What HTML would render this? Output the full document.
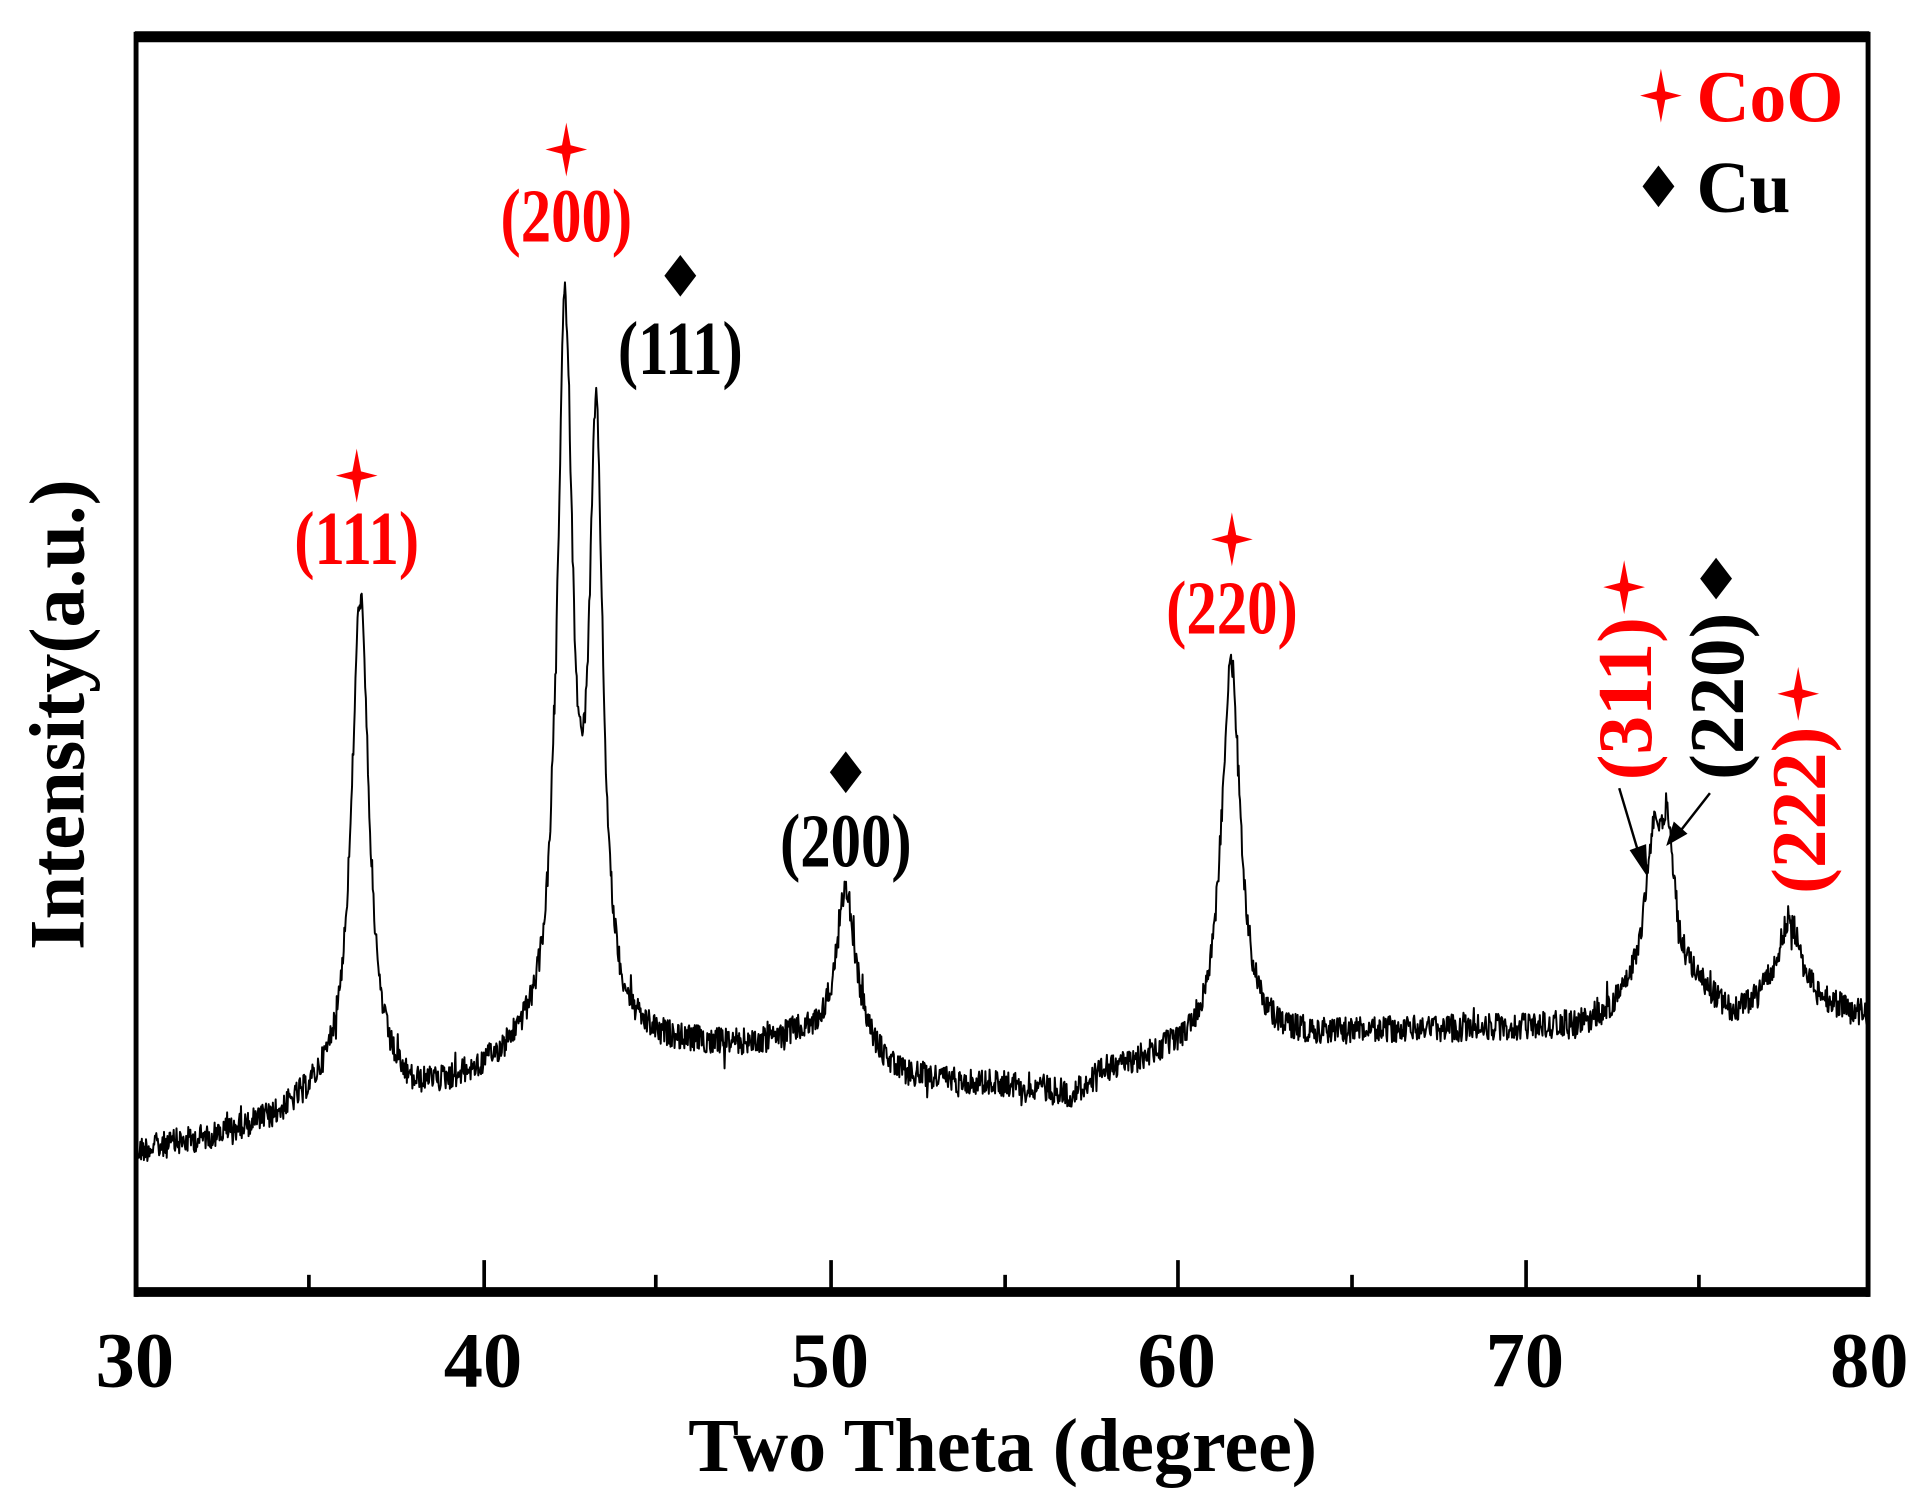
<!DOCTYPE html>
<html><head><meta charset="utf-8">
<style>
html,body{margin:0;padding:0;background:#fff;}
svg{display:block;}
text{font-family:"Liberation Serif",serif;font-weight:bold;}
</style></head>
<body>
<svg id="s" width="1922" height="1507" viewBox="0 0 1568 1229.4" preserveAspectRatio="none" xmlns="http://www.w3.org/2000/svg">
<defs>
<path id="star" d="M0,-22 L3.5,-3.5 L17,0 L3.5,3.5 L0,22 L-3.5,3.5 L-17,0 L-3.5,-3.5 Z"/>
<path id="dia" d="M0,-17 L13,0 L0,17 L-13,0 Z"/>
</defs>
<path id="curve" fill="none" stroke="#000" stroke-width="1.6" stroke-linejoin="round"/>
<line x1="110" y1="30" x2="1525" y2="30" stroke="#000" stroke-width="9"/>
<line x1="110" y1="1054" x2="1525" y2="1054" stroke="#000" stroke-width="8"/>
<line x1="111" y1="26" x2="111" y2="1058" stroke="#000" stroke-width="4"/>
<line x1="1524" y1="26" x2="1524" y2="1058" stroke="#000" stroke-width="4"/>
<g stroke="#000" stroke-width="3">
<line x1="252" y1="1054" x2="252" y2="1040"/>
<line x1="395" y1="1054" x2="395" y2="1028"/>
<line x1="535" y1="1054" x2="535" y2="1040"/>
<line x1="678" y1="1054" x2="678" y2="1028"/>
<line x1="820" y1="1054" x2="820" y2="1040"/>
<line x1="961" y1="1054" x2="961" y2="1028"/>
<line x1="1103" y1="1054" x2="1103" y2="1040"/>
<line x1="1245" y1="1054" x2="1245" y2="1028"/>
<line x1="1386" y1="1054" x2="1386" y2="1040"/>
</g>
<g font-size="64" text-anchor="middle" fill="#000">
<text x="110" y="1131">30</text>
<text x="394" y="1131">40</text>
<text x="677" y="1131">50</text>
<text x="960" y="1131">60</text>
<text x="1244" y="1131">70</text>
<text x="1525" y="1131">80</text>
</g>
<text x="818" y="1200" font-size="62" text-anchor="middle">Two Theta (degree)</text>
<text transform="translate(68,583) rotate(-90)" font-size="64" text-anchor="middle">Intensity(a.u.)</text>
<use href="#star" x="1355" y="78" fill="red"/>
<text x="1384" y="99" font-size="60" fill="red">CoO</text>
<use href="#dia" x="1353" y="152" fill="#000"/>
<text x="1384" y="173" font-size="60" fill="#000">Cu</text>
<g font-size="62" text-anchor="middle">
<use href="#star" x="291" y="388" fill="red"/>
<text transform="translate(291,460) scale(0.8,1)" fill="red">(111)</text>
<use href="#star" x="462" y="122" fill="red"/>
<text transform="translate(462,197) scale(0.8,1)" fill="red">(200)</text>
<use href="#dia" x="555" y="225" fill="#000"/>
<text transform="translate(555,305) scale(0.8,1)" fill="#000">(111)</text>
<use href="#dia" x="690" y="630" fill="#000"/>
<text transform="translate(690,707) scale(0.8,1)" fill="#000">(200)</text>
<use href="#star" x="1005" y="440" fill="red"/>
<text transform="translate(1005,517) scale(0.8,1)" fill="red">(220)</text>
<use href="#star" x="1325" y="479" fill="red"/>
<text transform="translate(1347,570) rotate(-90)" fill="red" font-size="63">(311)</text>
<use href="#dia" x="1400" y="472" fill="#000"/>
<text transform="translate(1422,568) rotate(-90)" fill="#000" font-size="63">(220)</text>
<use href="#star" x="1467" y="566" fill="red"/>
<text transform="translate(1489,661) rotate(-90)" fill="red" font-size="63">(222)</text>
</g>
<g stroke="#000" stroke-width="2" fill="#000">
<line x1="1321" y1="643" x2="1338" y2="700"/>
<path d="M1343,712 L1331,694 L1342,690 Z"/>
<line x1="1395" y1="647" x2="1370" y2="679"/>
<path d="M1361,688 L1366,672 L1375,680 Z"/>
</g>
</svg>
<script>
(function(){
var seed=12345;function rnd(){seed=(seed*1103515245+12345)%2147483648;return seed/2147483648;}
var bp=[[30,940],[32,930],[34,915],[35,900],[36,885],[38,898],[40,880],[41,865],[44,855],[48,855],[49,848],[51,862],[52,880],[56,888],[57,895],[58,875],[60,860],[63,848],[66,842],[72,838],[73,825],[75,810],[76,832],[77,822],[79,825],[80,830]];
function base(t){for(var i=0;i<bp.length-1;i++){if(t<=bp[i+1][0]){var a=bp[i],b=bp[i+1];return a[1]+(b[1]-a[1])*(t-a[0])/(b[0]-a[0]);}}return 830;}
var pk=[[36.5,400,0.3],[42.4,590,0.27],[43.3,480,0.24],[50.5,130,0.35],[61.6,315,0.33],[73.8,120,0.35],[74.2,95,0.25],[77.7,72,0.4]];
var d="";
for(var t=30;t<=80.001;t+=0.02){
var y=base(t);
for(var j=0;j<pk.length;j++){var u=(t-pk[j][0])/pk[j][2];y-=pk[j][1]/(1+u*u);}
y+=(rnd()-0.5)*22+(rnd()<0.05?(rnd()-0.5)*30:0);
var x=110+(t-30)*28.3;
d+=(d?"L":"M")+x.toFixed(1)+","+y.toFixed(1);
}
document.getElementById("curve").setAttribute("d",d);
})();
</script>
</body></html>
